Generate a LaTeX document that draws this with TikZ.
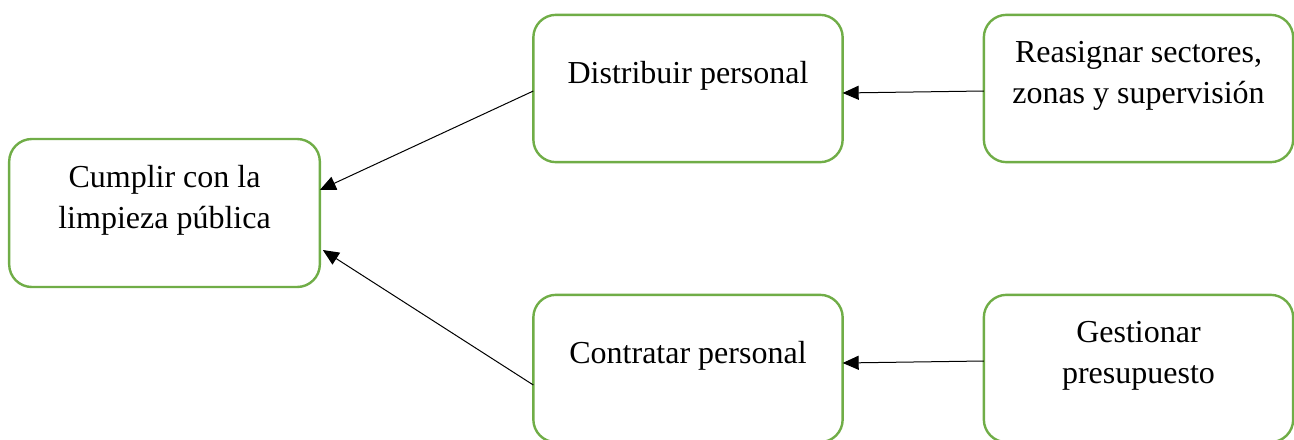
\documentclass[tikz,border=0pt]{standalone}
\usepackage{fontspec}
\setmainfont{Liberation Serif}
\usetikzlibrary{arrows.meta,calc}
\definecolor{boxgreen}{HTML}{70AD47}
\tikzset{
  box/.style={draw=boxgreen, line width=1.8pt, rounded corners=17pt, fill=white,
    inner sep=0pt, outer sep=0pt, minimum height=110.5pt},
  wbox/.style={box, minimum width=232pt},
  txt/.style={anchor=base, inner sep=0pt, font=\fontsize{24}{30.75}\selectfont},
  link/.style={draw=black, line width=0.75pt, -{Triangle[length=12pt,width=10.5pt]}}
}
\begin{document}
\begin{tikzpicture}[x=0.75pt,y=-0.75pt]
\useasboundingbox (0,0) rectangle (1294,439);
\node[wbox, minimum width=233pt, minimum height=111pt] (cump) at (164.5,213) {};
\node[wbox] (dist) at (688,88.5) {};
\node[wbox] (reas) at (1138.5,88.5) {};
\node[wbox] (cont) at (688,368.5) {};
\node[wbox] (gest) at (1138.5,368.5) {};
\node[txt] (t1) at (164.5,187) {Cumplir con la};
\node[txt] (t2) at (164.5,228) {limpieza pública};
\node[txt] (t3) at (688,83) {Distribuir personal};
\node[txt] (t4) at (1138.5,62) {Reasignar sectores,};
\node[txt] (t5) at (1138.5,103) {zonas y supervisión};
\node[txt] (t6) at (688,363) {Contratar personal};
\node[txt] (t7) at (1138.5,342) {Gestionar};
\node[txt] (t8) at (1138.5,383) {presupuesto};
\draw[link] ($(reas.west)+(0,2.5)$) -- ($(dist.east)+(0,4.5)$);
\draw[link] ($(gest.west)+(0,-7.5)$) -- ($(cont.east)+(0,-5.5)$);
\draw[link] ($(dist.west)+(0,2.5)$) -- ($(cump.east)+(0,-23)$);
\draw[link] ($(cont.west)+(0,16.5)$) -- ($(cump.east)+(3,37)$);
\end{tikzpicture}
\end{document}
